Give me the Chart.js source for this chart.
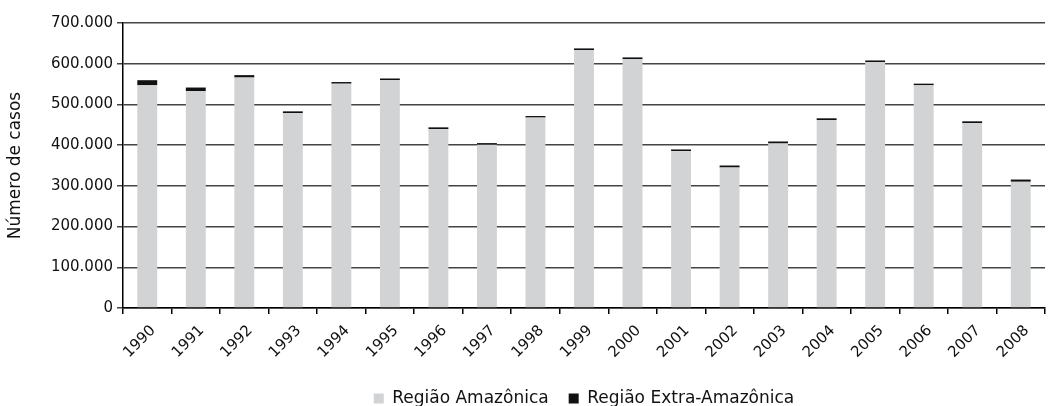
<!DOCTYPE html>
<html>
<head>
<meta charset="utf-8">
<script src="https://cdn.jsdelivr.net/npm/chart.js@4"></script>
<style>
  html, body { margin: 0; padding: 0; background: #fff; }
  #wrap { width: 1048px; height: 406px; }
</style>
</head>
<body>
<div id="wrap"><canvas id="casosChart"></canvas></div>
<script>
const anos = ['1990', '1991', '1992', '1993', '1994', '1995', '1996', '1997', '1998', '1999',
              '2000', '2001', '2002', '2003', '2004', '2005', '2006', '2007', '2008'];
const regiaoAmazonica = [547000, 533000, 566000, 479000, 551000, 559500, 439500, 401000, 467600, 633500,
                         611000, 385300, 345000, 404000, 461700, 604000, 547000, 454000, 310000];
const regiaoExtraAmazonica = [12500, 8500, 6000, 4000, 4000, 4200, 4200, 4000, 3900, 4100,
                              4500, 4100, 5000, 5000, 4200, 4000, 4000, 4500, 5500];
const yTicks = [0, 100000, 200000, 300000, 400000, 500000, 600000, 700000];

const fonte = 'DejaVu Sans, sans-serif';

// formato brasileiro: 700.000
function formatarMilhar(v) {
    return String(v).replace(/\B(?=(\d{3})+(?!\d))/g, '.');
}

const ctx = document.getElementById('casosChart').getContext('2d');

new Chart(ctx, {
    type: 'bar',
    data: {
        labels: anos,
        datasets: [
            {
                label: 'Região Amazônica',
                data: regiaoAmazonica,
                backgroundColor: '#d1d3d4',
                borderWidth: 0,
                barPercentage: 0.41,
                categoryPercentage: 1
            },
            {
                label: 'Região Extra-Amazônica',
                data: regiaoExtraAmazonica,
                backgroundColor: '#111111',
                borderWidth: 0,
                barPercentage: 0.41,
                categoryPercentage: 1
            }
        ]
    },
    options: {
        responsive: true,
        maintainAspectRatio: false,
        animation: false,
        layout: {
            padding: { top: 23, right: 3, left: 0, bottom: -11 }
        },
        plugins: {
            legend: {
                position: 'bottom',
                fullSize: false,
                labels: {
                    color: '#111',
                    boxWidth: 10,
                    boxHeight: 10,
                    padding: 20,
                    font: { family: fonte, size: 17 }
                }
            },
            tooltip: { enabled: false }
        },
        scales: {
            x: {
                stacked: true,
                afterFit: (scale) => { scale.height = 62; },
                grid: {
                    display: true,
                    drawOnChartArea: false,
                    drawTicks: true,
                    offset: true,
                    tickLength: 6,
                    color: '#000',
                    lineWidth: 1.5
                },
                border: { color: '#000', width: 1.5 },
                ticks: {
                    color: '#111',
                    minRotation: 45,
                    maxRotation: 45,
                    autoSkip: false,
                    padding: 8,
                    labelOffset: 6,
                    font: { family: fonte, size: 15 }
                }
            },
            y: {
                stacked: true,
                min: 0,
                max: 700000,
                afterFit: (scale) => { scale.width = 123; },
                afterBuildTicks: (scale) => {
                    scale.ticks = yTicks.map(v => ({ value: v }));
                },
                title: {
                    display: true,
                    text: 'Número de casos',
                    color: '#111',
                    padding: { top: 5, bottom: 0 },
                    font: { family: fonte, size: 17 }
                },
                grid: {
                    color: '#444',
                    lineWidth: 1.5,
                    tickLength: 6
                },
                border: { color: '#000', width: 1.5 },
                ticks: {
                    color: '#111',
                    padding: 4,
                    font: { family: fonte, size: 15 },
                    callback: (v) => formatarMilhar(v)
                }
            }
        }
    }
});
</script>
</body>
</html>
